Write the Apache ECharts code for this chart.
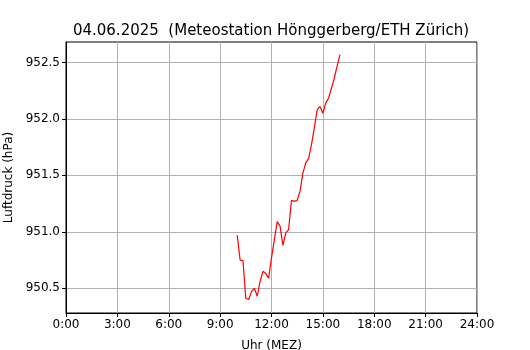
<!DOCTYPE html>
<html>
<head>
<meta charset="utf-8">
<script src="https://cdn.jsdelivr.net/npm/echarts@6/dist/echarts.min.js"></script>
<style>
  html, body { margin: 0; padding: 0; background: #fff; }
  #chart { width: 530px; height: 350px; }
</style>
</head>
<body>
<div id="chart"></div>
<script>
// Messzeitpunkte (10-Minuten-Werte)
var times = ['10:00', '10:10', '10:20', '10:30', '10:40', '10:50', '11:00', '11:10', '11:20', '11:30',
  '11:40', '11:50', '12:00', '12:10', '12:20', '12:30', '12:40', '12:50', '13:00', '13:10',
  '13:20', '13:30', '13:40', '13:50', '14:00', '14:10', '14:20', '14:30', '14:40', '14:50',
  '15:00', '15:10', '15:20', '15:30', '15:40', '15:50', '16:00'];
// Luftdruck in hPa
var pressure = [950.97, 950.75, 950.745, 950.41, 950.40, 950.47, 950.50, 950.43, 950.56, 950.65,
  950.63, 950.59, 950.77, 950.93, 951.09, 951.05, 950.88, 950.99, 951.02, 951.28,
  951.27, 951.28, 951.36, 951.52, 951.61, 951.65, 951.77, 951.92, 952.08, 952.11,
  952.05, 952.14, 952.185, 952.27, 952.36, 952.47, 952.57];
var xTicks = [0, 3, 6, 9, 12, 15, 18, 21, 24];
var yTicks = [950.5, 951.0, 951.5, 952.0, 952.5];

var font = 'DejaVu Sans';

function toHours(t) {
  var p = t.split(':');
  return Number(p[0]) + Number(p[1]) / 60;
}

var seriesData = times.map(function (t, i) {
  return [toHours(t), pressure[i]];
});

var chart = echarts.init(document.getElementById('chart'), null, { renderer: 'canvas' });

var option = {
  animation: false,
  backgroundColor: '#fff',
  title: {
    text: '04.06.2025  (Meteostation Hönggerberg/ETH Zürich)',
    left: 266,
    textAlign: 'center',
    top: 19,
    textStyle: { fontFamily: font, fontSize: 15, fontWeight: 'normal', color: '#000' }
  },
  grid: {
    left: 66, right: 53, top: 42, bottom: 37,
    containLabel: false,
    outerBoundsMode: 'none',
    show: true, borderColor: '#000', borderWidth: 1, backgroundColor: 'transparent'
  },
  xAxis: {
    type: 'value',
    min: 0, max: 24, interval: 3,
    name: 'Uhr (MEZ)',
    nameLocation: 'middle',
    nameGap: 27,
    nameTextStyle: { fontFamily: font, fontSize: 12, color: '#000' },
    axisLine: { show: true, lineStyle: { color: '#000', width: 1 } },
    axisTick: { show: true, inside: false, length: 4, lineStyle: { color: '#000' } },
    axisLabel: {
      fontFamily: font, fontSize: 12, color: '#000', margin: 6,
      customValues: xTicks,
      formatter: function (v) { return v + ':00'; }
    },
    splitLine: { show: true, lineStyle: { color: '#b0b0b0', width: 1 } }
  },
  yAxis: {
    type: 'value',
    min: 950.281, max: 952.681,
    name: 'Luftdruck (hPa)',
    nameLocation: 'middle',
    nameGap: 51,
    nameRotate: 90,
    nameTextStyle: { fontFamily: font, fontSize: 12, color: '#000' },
    axisLine: { show: true, lineStyle: { color: '#000', width: 1 } },
    axisTick: { show: true, inside: false, length: 4, lineStyle: { color: '#000' }, customValues: yTicks },
    axisLabel: {
      fontFamily: font, fontSize: 12, color: '#000', margin: 6,
      customValues: yTicks,
      formatter: function (v) { return v.toFixed(1); }
    },
    splitLine: { show: true, lineStyle: { color: '#b0b0b0', width: 1 } }
  },
  series: [{
    type: 'line',
    data: seriesData,
    showSymbol: false,
    symbol: 'none',
    lineStyle: { color: '#ff0000', width: 1.2 },
    clip: true
  }]
};

chart.setOption(option);
</script>
</body>
</html>
